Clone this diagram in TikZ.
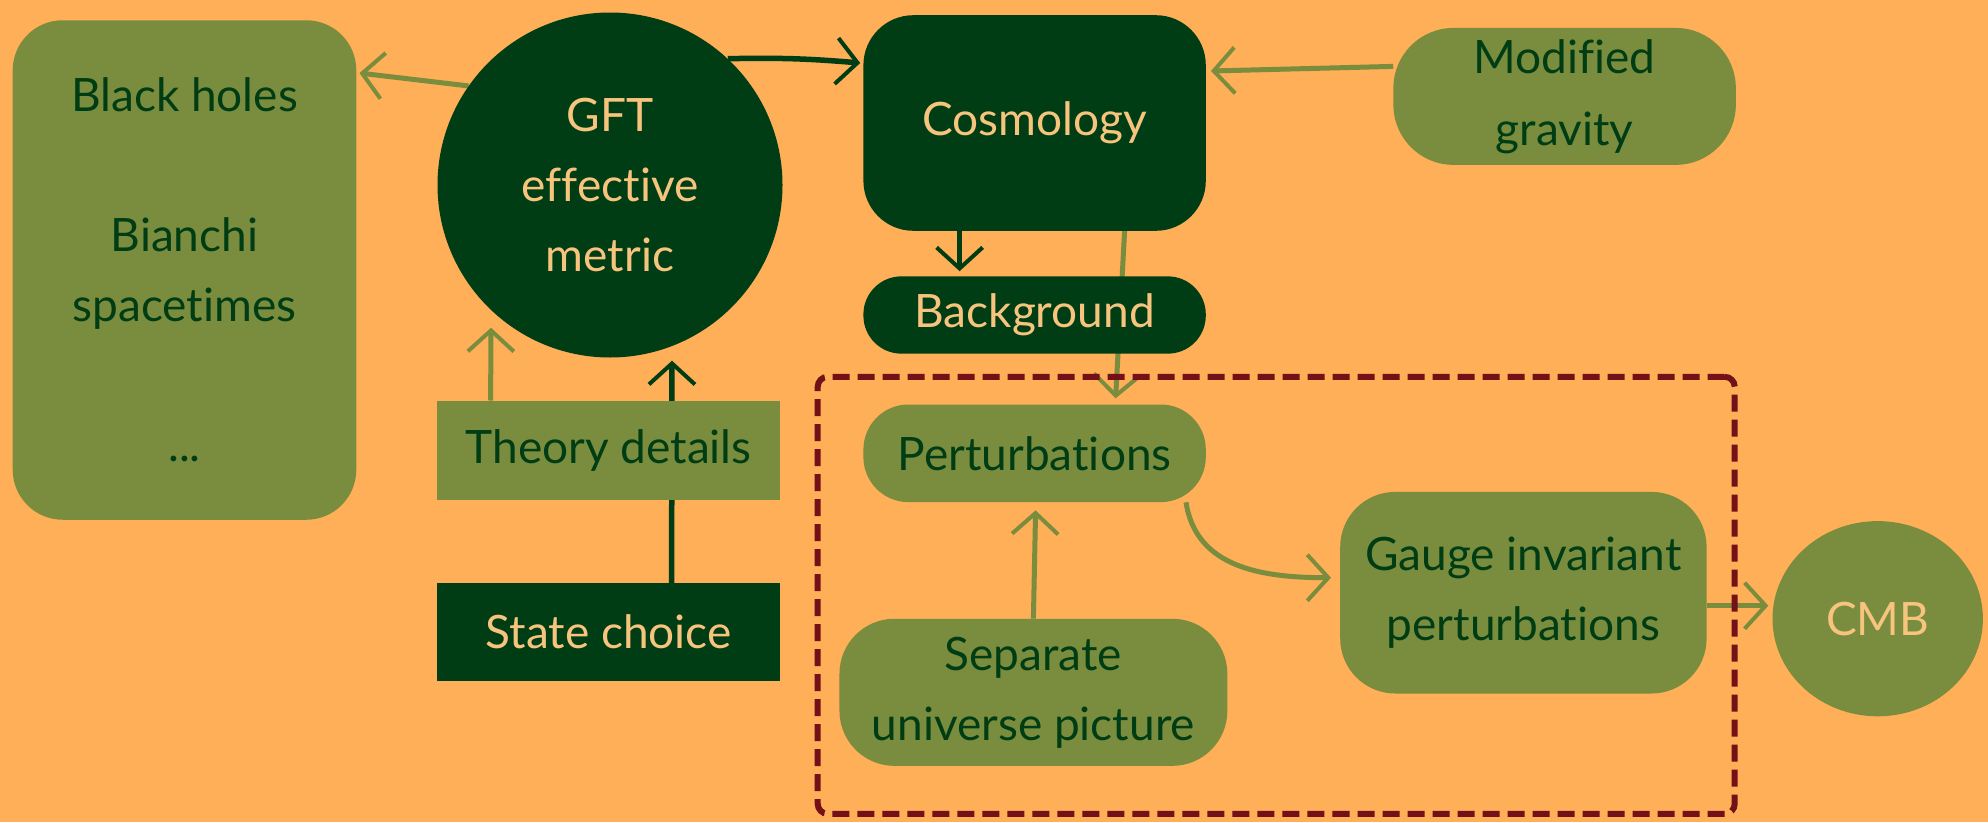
\documentclass[tikz,border=0pt]{standalone}
\usepackage{fontspec}
\setmainfont{Lato}[Ligatures=NoCommon]
\usetikzlibrary{arrows.meta,shapes.geometric}
\definecolor{bgc}{HTML}{FFAF57}
\definecolor{olive}{HTML}{7A8D3E}
\definecolor{dgreen}{HTML}{003D14}
\definecolor{lorange}{HTML}{F7C47E}
\definecolor{dred}{HTML}{741018}
\pgfdeclarelayer{backfill}
\pgfdeclarelayer{arrowlayer}
\pgfsetlayers{backfill,arrowlayer,main}
\tikzset{
  txt/.style={font=\fontsize{46}{70}\selectfont, align=center, inner sep=0pt},
  olivebox/.style={txt, fill=olive, text=dgreen},
  darkbox/.style={txt, fill=dgreen, text=lorange},
  tipO/.style={-{Straight Barb[length=21pt,width=46pt,line width=4pt]}},
  oarr/.style={draw=olive, line width=5pt, tipO},
  darr/.style={draw=dgreen, line width=5.5pt, tipO},
}
\begin{document}
\begin{tikzpicture}[x=1pt,y=-1pt]
\begin{pgfonlayer}{backfill}
\fill[bgc] (0,0) rectangle (1988,822);
\end{pgfonlayer}
\useasboundingbox (0,0) rectangle (1988,822);

% dashed group frame
\node[draw=dred, line width=6pt, dash pattern=on 17pt off 8pt, rounded corners=10pt,
      minimum width=917pt, minimum height=437pt, inner sep=0pt] (grp) at (1276.2,595.3) {};

\node[olivebox, rounded corners=50pt, minimum width=343.6pt, minimum height=499.5pt] (bh) at (184.5,270)
  {Black holes\\[70pt]Bianchi\\spacetimes\\[70pt]...};
\node[darkbox, circle, minimum size=345pt] (gft) at (610,185) {GFT\\effective\\metric};
\node[darkbox, rounded corners=50pt, minimum width=342.4pt, minimum height=215.6pt] (cosmo) at (1034.6,123) {Cosmology};
\node[olivebox, rounded corners=60pt, minimum width=342.4pt, minimum height=136.9pt] (mod) at (1564.6,96.4) {Modified\\[2pt]gravity};
\node[darkbox, rounded corners=38pt, minimum width=342.4pt, minimum height=77.3pt] (bg) at (1034.6,315) {Background};
\node[olivebox, minimum width=342.4pt, minimum height=99pt] (theory) at (608.6,450.2) {Theory details};
\node[darkbox, minimum width=342.4pt, minimum height=97.7pt] (state) at (608.6,632) {State choice};
\node[olivebox, rounded corners=45pt, minimum width=342.4pt, minimum height=97.6pt] (pert) at (1034.6,453.3) {Perturbations};
\node[olivebox, rounded corners=55pt, minimum width=387.9pt, minimum height=147.1pt] (sep) at (1033.4,692.3) {Separate\\universe picture};
\node[olivebox, rounded corners=55pt, minimum width=366.4pt, minimum height=201.6pt] (gauge) at (1523.4,592.7) {Gauge invariant\\perturbations};
\node[txt, ellipse, fill=olive, text=lorange, minimum width=210.4pt, minimum height=195.2pt] (cmb) at (1877.7,618.7) {CMB};

\begin{pgfonlayer}{arrowlayer}
\draw[oarr] (gft.145) -- ([xshift=3pt,yshift=-53pt]bh.north east);
\draw[darr] (gft.47) to[bend left=3] ([xshift=-3pt,yshift=-48pt]cosmo.north west);
\draw[oarr] ([yshift=30pt]mod.west) -- ([xshift=5pt,yshift=-56pt]cosmo.north east);
\draw[darr] ([xshift=-75pt]cosmo.south) -- ([xshift=-75pt,yshift=5pt]bg.north);
\draw[oarr] ([xshift=90pt]cosmo.south) -- ([xshift=81pt,yshift=6pt]pert.north);
\draw[oarr] ([xshift=-118pt]theory.north) -- ([xshift=-119pt,yshift=30pt]gft.south);
\draw[darr] ([xshift=63pt]state.north) -- ([xshift=62pt,yshift=-3pt]gft.south);
\draw[oarr] (sep.north) -- ([xshift=1pt,yshift=-8pt]pert.south);
\draw[oarr] ([xshift=-20pt]pert.south east) .. controls +(10,65) and +(-70,0) .. ([xshift=-9pt,yshift=15pt]gauge.west);
\draw[oarr] ([yshift=-13pt]gauge.east) -- ([xshift=-4pt,yshift=13pt]cmb.west);
\end{pgfonlayer}
\end{tikzpicture}
\end{document}
